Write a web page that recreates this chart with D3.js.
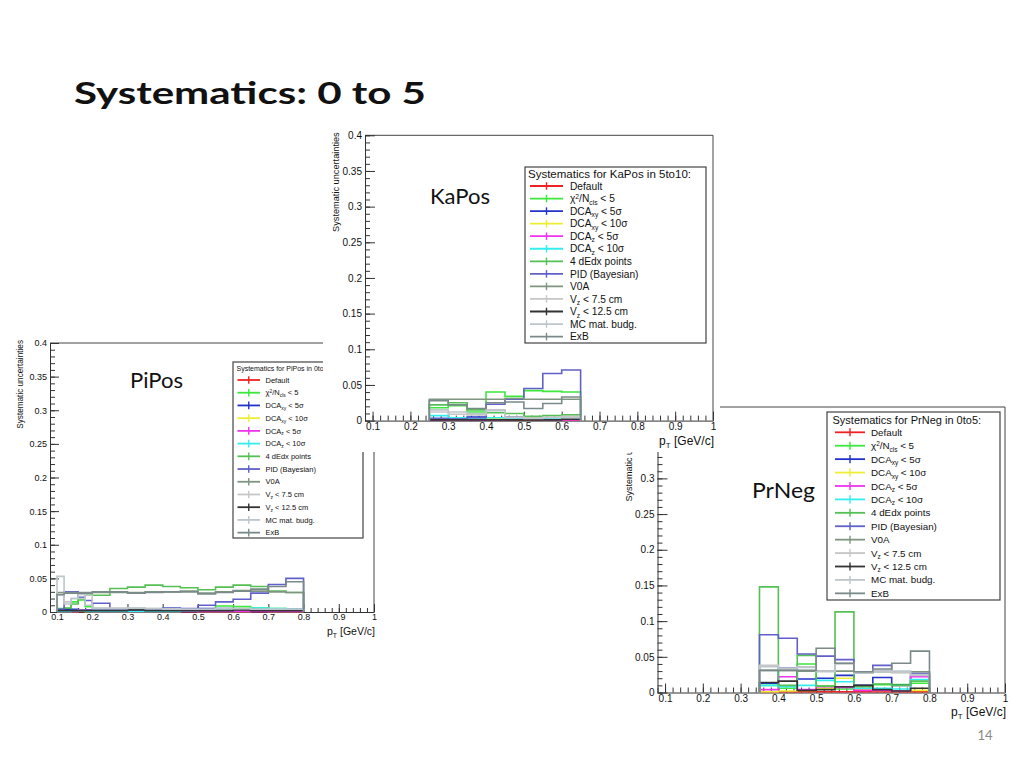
<!DOCTYPE html>
<html>
<head>
<meta charset="utf-8">
<script src="https://cdn.jsdelivr.net/npm/d3@7"></script>
<style>
  body { margin: 0; background: #fff; }
  svg { display: block; }
  .root text { font-family: "Liberation Sans", Arial, sans-serif; fill: #111; }
  .slide { font-family: Lato, "Open Sans", sans-serif; }
</style>
</head>
<body>
<div id="chart"></div>
<script>
// slide size
var width = 1024,
    height = 768;

// legend entries, same for every panel (ROOT style _{} / ^{} markup)
var seriesNames = ["Default", "χ^{2}/N_{cls} < 5", "DCA_{xy} < 5σ", "DCA_{xy} < 10σ",
  "DCA_{z} < 5σ", "DCA_{z} < 10σ", "4 dEdx points", "PID (Bayesian)", "V0A",
  "V_{z} < 7.5 cm", "V_{z} < 12.5 cm", "MC mat. budg.", "ExB"];
var seriesColors = ["#ee2222", "#3be83b", "#2233cc", "#eeee33", "#ee33ee", "#33eeee",
  "#55c055", "#6060c8", "#7f9580", "#c6c6c6", "#333333", "#bcc6cc", "#7a8a8a"];

var yTicks = [0, 0.05, 0.1, 0.15, 0.2, 0.25, 0.3, 0.35, 0.4];
var xTicks = [0.1, 0.2, 0.3, 0.4, 0.5, 0.6, 0.7, 0.8, 0.9, 1];

// PiPos, 0to5
var piPosEdges = [0.1, 0.12, 0.14, 0.16, 0.18, 0.2, 0.25, 0.3, 0.35, 0.4, 0.45, 0.5, 0.55, 0.6, 0.65, 0.7, 0.75, 0.8];
var piPosValues = [
  [0.001, 0.001, 0.001, 0.001, 0.001, 0.001, 0.001, 0.001, 0.001, 0.001, 0.001, 0.001, 0.001, 0.001, 0.001, 0.001, 0.001],
  [0.004, 0.005, 0.015, 0.018, 0.008, 0.005, 0.004, 0.004, 0.003, 0.003, 0.003, 0.004, 0.009, 0.008, 0.006, 0.005, 0.004],
  [0.002, 0.004, 0.004, 0.003, 0.003, 0.003, 0.002, 0.002, 0.003, 0.006, 0.003, 0.005, 0.005, 0.003, 0.004, 0.004, 0.004],
  [0.001, 0.001, 0.001, 0.002, 0.001, 0.001, 0.001, 0.001, 0.001, 0.001, 0.002, 0.001, 0.001, 0.001, 0.002, 0.001, 0.001],
  [0.001, 0.001, 0.001, 0.003, 0.002, 0.001, 0.001, 0.001, 0.001, 0.001, 0.001, 0.001, 0.001, 0.001, 0.001, 0.001, 0.001],
  [0.001, 0.001, 0.002, 0.002, 0.001, 0.001, 0.001, 0.001, 0.001, 0.001, 0.002, 0.003, 0.003, 0.004, 0.006, 0.005, 0.004],
  [0.005, 0.006, 0.012, 0.020, 0.027, 0.025, 0.035, 0.037, 0.040, 0.038, 0.036, 0.033, 0.037, 0.040, 0.038, 0.031, 0.029],
  [0.004, 0.030, 0.030, 0.022, 0.017, 0.013, 0.004, 0.003, 0.003, 0.004, 0.005, 0.010, 0.015, 0.019, 0.028, 0.041, 0.050],
  [0.029, 0.029, 0.029, 0.029, 0.029, 0.029, 0.029, 0.029, 0.030, 0.030, 0.031, 0.028, 0.030, 0.032, 0.031, 0.030, 0.029],
  [0.025, 0.015, 0.020, 0.020, 0.025, 0.006, 0.006, 0.006, 0.005, 0.005, 0.004, 0.004, 0.005, 0.005, 0.004, 0.004, 0.004],
  [0.002, 0.002, 0.002, 0.002, 0.002, 0.002, 0.002, 0.003, 0.002, 0.002, 0.002, 0.002, 0.002, 0.003, 0.002, 0.002, 0.002],
  [0.053, 0.012, 0.020, 0.026, 0.010, 0.005, 0.005, 0.006, 0.005, 0.004, 0.004, 0.004, 0.005, 0.005, 0.004, 0.004, 0.004],
  [0.026, 0.028, 0.028, 0.028, 0.028, 0.030, 0.030, 0.028, 0.029, 0.030, 0.030, 0.027, 0.029, 0.031, 0.034, 0.038, 0.045]
];

// KaPos, 5to10
var kaPosEdges = [0.25, 0.3, 0.35, 0.4, 0.45, 0.5, 0.55, 0.6, 0.65];
var kaPosValues = [
  [0.001, 0.001, 0.001, 0.001, 0.001, 0.001, 0.001, 0.001],
  [0.018, 0.021, 0.012, 0.040, 0.034, 0.042, 0.041, 0.040],
  [0.003, 0.002, 0.005, 0.004, 0.005, 0.003, 0.002, 0.002],
  [0.002, 0.001, 0.002, 0.003, 0.002, 0.002, 0.001, 0.002],
  [0.001, 0.001, 0.001, 0.001, 0.002, 0.003, 0.001, 0.001],
  [0.007, 0.004, 0.003, 0.004, 0.003, 0.002, 0.003, 0.004],
  [0.022, 0.025, 0.015, 0.011, 0.010, 0.006, 0.007, 0.008],
  [0.003, 0.002, 0.004, 0.023, 0.030, 0.045, 0.066, 0.071],
  [0.030, 0.030, 0.030, 0.030, 0.031, 0.030, 0.030, 0.030],
  [0.012, 0.009, 0.008, 0.015, 0.005, 0.004, 0.005, 0.006],
  [0.001, 0.001, 0.001, 0.001, 0.001, 0.001, 0.001, 0.002],
  [0.015, 0.012, 0.010, 0.014, 0.004, 0.003, 0.004, 0.004],
  [0.028, 0.022, 0.017, 0.025, 0.026, 0.017, 0.024, 0.033]
];

// PrNeg, 0to5
var prNegEdges = [0.35, 0.4, 0.45, 0.5, 0.55, 0.6, 0.65, 0.7, 0.75, 0.8];
var prNegValues = [
  [0.001, 0.001, 0.001, 0.001, 0.001, 0.001, 0.001, 0.001, 0.001],
  [0.010, 0.006, 0.040, 0.009, 0.005, 0.009, 0.011, 0.011, 0.013],
  [0.013, 0.034, 0.019, 0.020, 0.024, 0.010, 0.021, 0.010, 0.024],
  [0.001, 0.002, 0.003, 0.006, 0.020, 0.004, 0.003, 0.002, 0.003],
  [0.004, 0.022, 0.004, 0.008, 0.007, 0.003, 0.003, 0.002, 0.022],
  [0.010, 0.008, 0.010, 0.017, 0.015, 0.006, 0.006, 0.005, 0.018],
  [0.148, 0.010, 0.052, 0.009, 0.113, 0.008, 0.012, 0.010, 0.016],
  [0.081, 0.076, 0.054, 0.051, 0.046, 0.028, 0.038, 0.029, 0.027],
  [0.031, 0.031, 0.030, 0.030, 0.030, 0.028, 0.029, 0.028, 0.029],
  [0.038, 0.034, 0.036, 0.030, 0.040, 0.027, 0.030, 0.028, 0.025],
  [0.014, 0.016, 0.003, 0.004, 0.008, 0.010, 0.004, 0.002, 0.006],
  [0.036, 0.032, 0.035, 0.029, 0.041, 0.027, 0.031, 0.030, 0.024],
  [0.031, 0.031, 0.031, 0.062, 0.041, 0.029, 0.033, 0.041, 0.058]
];

// where each pasted ROOT picture sits on the slide
var panels = [
  { name: "PiPos", edges: piPosEdges, values: piPosValues, legendTitle: "Systematics for PiPos in 0to5",
    px: [50, 374], py: [612, 343], tickFont: 9, xTitleFont: 10.5, xTitleY: 635,
    yTitleX: 23, yTitleFont: 8.2, majorY: 9, minorY: 5, majorX: 8, minorX: 4,
    legend: { x: 233, y: 362, w: 130, h: 176, titleX: 236.5, titleY: 371, titleFont: 7,
              rowY: 380, rowH: 12.72, sym: [237.5, 260], textX: 265.5, font: 7.5 },
    label: { x: 130, y: 388 } },
  { name: "PrNeg", edges: prNegEdges, values: prNegValues, legendTitle: "Systematics for PrNeg in 0to5:",
    px: [657.5, 1005], py: [692.5, 407], tickFont: 10, xTitleFont: 12, xTitleY: 716,
    yTitleX: 632, yTitleFont: 9, majorY: 10, minorY: 5, majorX: 9, minorX: 5,
    legend: { x: 827, y: 412, w: 173, h: 188, titleX: 832.5, titleY: 424, titleFont: 11,
              rowY: 432.3, rowH: 13.42, sym: [835, 865], textX: 871, font: 9.8 },
    label: { x: 752, y: 498 } },
  { name: "KaPos", edges: kaPosEdges, values: kaPosValues, legendTitle: "Systematics for KaPos in 5to10:",
    px: [365, 713], py: [420.6, 135.3], tickFont: 10, xTitleFont: 12, xTitleY: 445,
    yTitleX: 339, yTitleFont: 9.2, majorY: 10, minorY: 5, majorX: 9, minorX: 5,
    legend: { x: 525, y: 167, w: 181, h: 176, titleX: 528, titleY: 178, titleFont: 11.5,
              rowY: 186, rowH: 12.55, sym: [530, 563], textX: 570, font: 10.2 },
    label: { x: 430, y: 204 },
    cover: [323, 128, 397, 324] }   // this picture lies on top of the other two
];

var svg = d3.select("#chart").append("svg")
    .attr("width", width)
    .attr("height", height);

// slide title and page number
svg.append("text")
    .attr("class", "slide")
    .attr("x", 74)
    .attr("y", 104)
    .attr("textLength", 352)
    .attr("lengthAdjust", "spacingAndGlyphs")
    .style("font-size", "30px")
    .style("font-weight", 700)
    .style("fill", "#111")
    .text("Systematics: 0 to 5");

svg.append("text")
    .attr("class", "slide")
    .attr("x", 985)
    .attr("y", 740)
    .attr("text-anchor", "middle")
    .style("font-size", "13px")
    .style("fill", "#8a8a8a")
    .text("14");

// write "DCA_{xy} < 5σ" with real sub/superscripts
function rootText(sel, str, fs) {
  var parts = [], re = /([_^])\{([^}]*)\}/g, last = 0, m;
  while ((m = re.exec(str)) !== null) {
    if (m.index > last) parts.push({ t: str.slice(last, m.index), k: "" });
    parts.push({ t: m[2], k: m[1] });
    last = re.lastIndex;
  }
  if (last < str.length) parts.push({ t: str.slice(last), k: "" });
  var shift = 0;
  parts.forEach(function(p) {
    var target = p.k === "_" ? fs * 0.25 : p.k === "^" ? -fs * 0.36 : 0;
    sel.append("tspan")
      .attr("dy", target - shift)
      .style("font-size", (p.k ? fs * 0.66 : fs) + "px")
      .text(p.t);
    shift = target;
  });
}

var fmt = d3.format("~g");

panels.forEach(function(p) {
  var g = svg.append("g").attr("class", "root");

  if (p.cover) {
    g.append("rect")
      .attr("x", p.cover[0]).attr("y", p.cover[1])
      .attr("width", p.cover[2]).attr("height", p.cover[3])
      .attr("fill", "#fff");
  }

  var x = d3.scaleLinear().domain([0.08, 1]).range(p.px);
  var y = d3.scaleLinear().domain([0, 0.4]).range(p.py);

  // frame (top and right side, the axes make the other two)
  g.append("path")
    .attr("d", "M" + p.px[0] + "," + p.py[1] + "H" + p.px[1] + "V" + p.py[0])
    .attr("fill", "none")
    .attr("stroke", "#444")
    .attr("stroke-width", 1);

  // minor ticks
  g.append("g")
    .attr("transform", "translate(" + p.px[0] + ",0)")
    .call(d3.axisLeft(y).tickValues(d3.range(0, 0.4001, 0.01)).tickSize(-p.minorY).tickFormat(""))
    .call(function(a) { a.select(".domain").remove(); a.selectAll("line").attr("stroke", "#333"); });
  g.append("g")
    .attr("transform", "translate(0," + p.py[0] + ")")
    .call(d3.axisBottom(x).tickValues(d3.range(0.08, 1.0001, 0.02)).tickSize(-p.minorX).tickFormat(""))
    .call(function(a) { a.select(".domain").remove(); a.selectAll("line").attr("stroke", "#333"); });

  // main axes
  var yAxis = g.append("g")
    .attr("transform", "translate(" + p.px[0] + ",0)")
    .call(d3.axisLeft(y).tickValues(yTicks).tickSize(-p.majorY).tickSizeOuter(0).tickPadding(3).tickFormat(fmt));
  var xAxis = g.append("g")
    .attr("transform", "translate(0," + p.py[0] + ")")
    .call(d3.axisBottom(x).tickValues(xTicks).tickSize(-p.majorX).tickSizeOuter(0).tickPadding(2).tickFormat(fmt));
  [yAxis, xAxis].forEach(function(a) {
    a.selectAll("text").style("font-size", p.tickFont + "px").style("font-family", "'Liberation Sans', Arial, sans-serif").attr("fill", "#111");
    a.selectAll("line").attr("stroke", "#333");
    a.select(".domain").attr("stroke", "#333");
  });

  // axis titles
  g.append("text")
    .attr("transform", "translate(" + p.yTitleX + "," + (p.py[1] - 3) + ") rotate(-90)")
    .attr("text-anchor", "end")
    .style("font-size", p.yTitleFont + "px")
    .text("Systematic uncertainties");
  var xt = g.append("text")
    .attr("x", p.px[1] + 1)
    .attr("y", p.xTitleY)
    .attr("text-anchor", "end");
  rootText(xt, "p_{T} [GeV/c]", p.xTitleFont);

  // histograms, step outline from 0 back to 0
  var line = d3.line()
    .x(function(d) { return x(d[0]); })
    .y(function(d) { return y(d[1]); })
    .curve(d3.curveStepAfter);
  p.values.forEach(function(vals, i) {
    var n = vals.length;
    var pts = [[p.edges[0], 0]];
    vals.forEach(function(v, j) { pts.push([p.edges[j], v]); });
    pts.push([p.edges[n], vals[n - 1]]);
    pts.push([p.edges[n], 0]);
    g.append("path")
      .attr("d", line(pts))
      .attr("fill", "none")
      .attr("stroke", seriesColors[i])
      .attr("stroke-width", 1.6);
  });

  // legend
  var L = p.legend;
  var lg = g.append("g");
  lg.append("rect")
    .attr("x", L.x).attr("y", L.y).attr("width", L.w).attr("height", L.h)
    .attr("fill", "#fff").attr("stroke", "#444").attr("stroke-width", 1.2);
  lg.append("text")
    .attr("x", L.titleX).attr("y", L.titleY)
    .style("font-size", L.titleFont + "px")
    .text(p.legendTitle);
  seriesNames.forEach(function(name, i) {
    var yy = L.rowY + i * L.rowH;
    var mid = (L.sym[0] + L.sym[1]) / 2;
    lg.append("line")
      .attr("x1", L.sym[0]).attr("x2", L.sym[1]).attr("y1", yy).attr("y2", yy)
      .attr("stroke", seriesColors[i]).attr("stroke-width", 1.8);
    lg.append("line")
      .attr("x1", mid).attr("x2", mid).attr("y1", yy - L.rowH * 0.3).attr("y2", yy + L.rowH * 0.3)
      .attr("stroke", seriesColors[i]).attr("stroke-width", 1.4);
    var t = lg.append("text")
      .attr("x", L.textX).attr("y", yy + L.font * 0.36);
    rootText(t, name, L.font);
  });

  // big slide label on top of the picture
  svg.append("text")
    .attr("class", "slide")
    .attr("x", p.label.x)
    .attr("y", p.label.y)
    .attr("textLength", p.name === "PrNeg" ? 63 : p.name === "KaPos" ? 60 : 53)
    .attr("lengthAdjust", "spacingAndGlyphs")
    .style("font-size", "21px")
    .style("fill", "#111")
    .text(p.name);
});
</script>
</body>
</html>
